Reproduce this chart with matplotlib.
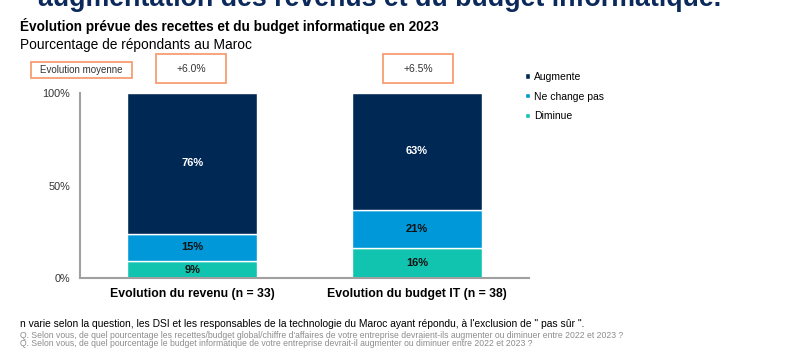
import matplotlib.pyplot as plt
from matplotlib.patches import Rectangle

plt.rcParams['font.family'] = ['Liberation Sans', 'DejaVu Sans']

categories = ['Evolution du revenu (n = 33)', 'Evolution du budget IT (n = 38)']
diminue = [9, 16]
ne_change_pas = [15, 21]
augmente = [76, 63]
moyenne = ['+6.0%', '+6.5%']

navy = '#002855'
blue = '#0098D8'
teal = '#10C4B0'
orange = '#F79D72'

fig = plt.figure(figsize=(8, 3.5), dpi=100, facecolor='w')
ax = fig.add_axes([0.1, 0.2057, 0.5613, 0.5286])

x = list(range(len(categories)))
w = 0.58
ax.bar(x, diminue, w, color=teal, edgecolor='white', linewidth=1, label='Diminue')
ax.bar(x, ne_change_pas, w, bottom=diminue, color=blue, edgecolor='white', linewidth=1, label='Ne change pas')
b2 = [a + b for a, b in zip(diminue, ne_change_pas)]
ax.bar(x, augmente, w, bottom=b2, color=navy, edgecolor='white', linewidth=1, label='Augmente')

for i in x:
    ax.text(i, diminue[i] / 2, f'{diminue[i]}%', ha='center', va='center', fontsize=8, fontweight='bold', color='#111111')
    ax.text(i, diminue[i] + ne_change_pas[i] / 2, f'{ne_change_pas[i]}%', ha='center', va='center', fontsize=8, fontweight='bold', color='#111111')
    ax.text(i, b2[i] + augmente[i] / 2, f'{augmente[i]}%', ha='center', va='center', fontsize=8, fontweight='bold', color='white')

ax.set_xlim(-0.5, 1.5)
ax.set_ylim(0, 100)
ax.set_yticks([0, 50, 100])
ax.set_yticklabels(['0%', '50%', '100%'], fontsize=7.8, color='#333333')
ax.set_xticks(x)
ax.set_xticklabels(categories, fontsize=8.8, fontweight='bold')
ax.tick_params(axis='x', length=0, pad=7)
ax.tick_params(axis='y', length=0, pad=7)
for s in ['top', 'right']:
    ax.spines[s].set_visible(False)
for s in ['left', 'bottom']:
    ax.spines[s].set_color('#A0A0A0')
    ax.spines[s].set_linewidth(1.5)

# legend
handles, labels = ax.get_legend_handles_labels()
fig.legend(handles[::-1], labels[::-1], loc='upper left', bbox_to_anchor=(0.645, 0.822),
           frameon=False, fontsize=7.5, handlelength=0.4, handleheight=0.4,
           handletextpad=0.4, labelspacing=0.95)

# big header, cut off at top like the source slide
fig.text(0.0475, 1 - 6 / 350, 'augmentation des revenus et du budget informatique.', fontsize=19.3,
         fontweight='bold', color='#0B2A5B', va='baseline')
fig.text(0.025, 1 - 31 / 350, 'Évolution prévue des recettes et du budget informatique en 2023',
         fontsize=9.8, fontweight='bold', va='baseline')
fig.text(0.025, 1 - 49 / 350, 'Pourcentage de répondants au Maroc', fontsize=9.9, va='baseline')

# orange boxes
def box(x0, y0, x1, y1, txt, fs):
    fig.patches.append(Rectangle((x0 / 800, 1 - y1 / 350), (x1 - x0) / 800, (y1 - y0) / 350,
                                 transform=fig.transFigure, fill=False, edgecolor=orange, linewidth=1.3))
    fig.text((x0 + x1) / 1600, 1 - (y0 + y1) / 700, txt, ha='center', va='center', fontsize=fs, color='#333333')

box(31, 62, 132, 78, 'Evolution moyenne', 7)
box(156, 54, 226, 83, moyenne[0], 7.5)
box(383, 54, 453, 83, moyenne[1], 7.5)

fig.text(0.025, 1 - 327 / 350,
         'n varie selon la question, les DSI et les responsables de la technologie du Maroc ayant répondu, à l\'exclusion de " pas sûr ".',
         fontsize=7.4, va='baseline')
fig.text(0.025, 1 - 337.5 / 350,
         'Q. Selon vous, de quel pourcentage les recettes/budget global/chiffre d\'affaires de votre entreprise devraient-ils augmenter ou diminuer entre 2022 et 2023 ?',
         fontsize=6.2, color='#8C8C8C', va='baseline')
fig.text(0.025, 1 - 346.5 / 350,
         'Q. Selon vous, de quel pourcentage le budget informatique de votre entreprise devrait-il augmenter ou diminuer entre 2022 et 2023 ?',
         fontsize=6.2, color='#8C8C8C', va='baseline')

plt.savefig('out.png', dpi=100)
